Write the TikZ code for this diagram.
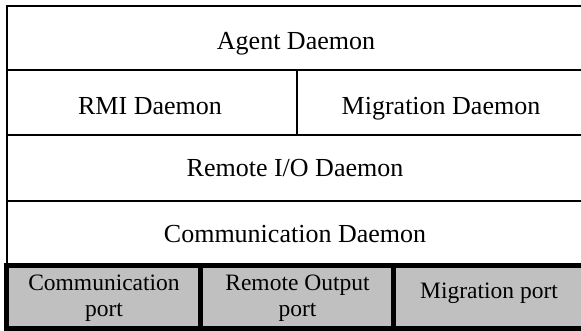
\documentclass[tikz,border=0pt]{standalone}
\usepackage{fontspec}
\setmainfont{Liberation Serif}
\definecolor{portgray}{HTML}{C0C0C0}
\begin{document}
\begin{tikzpicture}[x=1pt,y=-1pt,
  thinline/.style={line width=2pt,black},
  thickline/.style={line width=5pt,black},
  label/.style={inner sep=0pt,anchor=base,font=\fontsize{26}{30}\selectfont},
  portlabel/.style={inner sep=0pt,align=center,font=\fontsize{23.5}{25.5}\selectfont}]
\useasboundingbox (0,0) rectangle (581,331);
% layer lines
\coordinate (tl) at (7,6);
\coordinate (tr) at (582,6);
\coordinate (bl) at (7,265);
\draw[thinline] (tr) -- (tl) -- (bl);
\coordinate (l1) at (7,70);   \coordinate (r1) at (582,70);
\coordinate (l2) at (7,135);  \coordinate (r2) at (582,135);
\coordinate (l3) at (7,201);  \coordinate (r3) at (582,201);
\draw[thinline] (l1) -- (r1);
\draw[thinline] (l2) -- (r2);
\draw[thinline] (l3) -- (r3);
\coordinate (m1) at (297,70); \coordinate (m2) at (297,135);
\draw[thinline] (m1) -- (m2);
% ports
\fill[portgray] (6.5,265) rectangle (585,328);
\coordinate (pa) at (585,265); \coordinate (pb) at (6.5,265);
\coordinate (pc) at (6.5,328); \coordinate (pd) at (585,328);
\draw[thickline] (pa) -- (pb) -- (pc) -- (pd);
\coordinate (d1t) at (200,265); \coordinate (d1b) at (200,328);
\coordinate (d2t) at (393.5,265); \coordinate (d2b) at (393.5,328);
\draw[thickline] (d1t) -- (d1b);
\draw[thickline] (d2t) -- (d2b);
% labels
\node[label] (agent) at (296,50) {Agent Daemon};
\node[label] (rmi) at (150,115) {RMI Daemon};
\node[label] (mig) at (441,115) {Migration Daemon};
\node[label] (rio) at (295,177) {Remote I/O Daemon};
\node[label] (comm) at (295,243) {Communication Daemon};
\node[portlabel] (cport) at (104,298) {Communication\\port};
\node[portlabel] (rport) at (297.5,298) {Remote Output\\port};
\node[portlabel] (mport) at (489,293) {Migration port};
\end{tikzpicture}
\end{document}
